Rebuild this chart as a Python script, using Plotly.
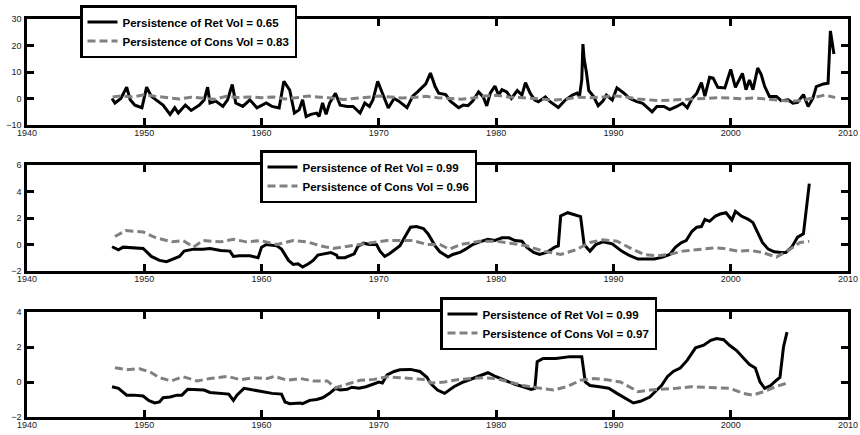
import plotly.graph_objects as go

# ---------- data ----------
# Panel 1: raw volatility series
ret1_t = [1947.25, 1947.5, 1948.0, 1948.5, 1948.8, 1949.2, 1949.8, 1950.2, 1950.6, 1951.0,
          1951.6, 1952.2, 1952.6, 1952.9, 1953.5, 1954.0, 1954.7, 1955.1, 1955.4, 1955.6,
          1956.1, 1956.7, 1957.1, 1957.5, 1957.8, 1958.4, 1959.0, 1959.6, 1960.4, 1960.9,
          1961.5, 1961.9, 1962.4, 1962.8, 1963.2, 1963.5, 1963.8, 1964.2, 1964.7, 1964.9,
          1965.2, 1965.5, 1965.8, 1966.3, 1966.7, 1967.3, 1967.8, 1968.4, 1968.8, 1969.2,
          1969.5, 1969.9, 1970.4, 1970.8, 1971.3, 1971.7, 1972.4, 1972.9, 1973.3, 1973.7,
          1974.0, 1974.4, 1974.8, 1975.1, 1975.7, 1976.1, 1976.5, 1976.8, 1977.2, 1977.6,
          1978.0, 1978.5, 1978.9, 1979.2, 1979.5, 1979.9, 1980.2, 1980.5, 1980.9, 1981.3,
          1981.8, 1982.2, 1982.5, 1982.9, 1983.3, 1983.6, 1984.2, 1984.6, 1985.3, 1985.9,
          1986.5, 1986.9, 1987.1, 1987.3, 1987.4, 1987.5, 1987.7, 1987.9, 1988.3, 1988.7,
          1989.1, 1989.4, 1989.9, 1990.3, 1990.9, 1991.4, 1992.0, 1992.5, 1993.3, 1993.7,
          1994.3, 1994.8, 1995.4, 1995.9, 1996.3, 1996.7, 1997.1, 1997.5, 1997.8, 1998.2,
          1998.5, 1998.9, 1999.5, 2000.0, 2000.4, 2001.0, 2001.3, 2001.6, 2001.9, 2002.3,
          2002.6, 2002.9, 2003.3, 2003.9, 2004.3, 2004.9, 2005.3, 2005.7, 2006.2, 2006.6,
          2007.0, 2007.3, 2007.9, 2008.3, 2008.5, 2008.6, 2008.8]
ret1_v = [0.0, -1.7, 0.0, 4.3, -0.5, -2.5, -3.5, 4.3, 0.8, -0.5,
          -2.5, -6.0, -3.5, -5.5, -2.5, -4.5, -2.5, -0.6, 4.3, -1.7,
          -1.0, -3.0, -0.5, 5.3, -1.7, -3.0, -0.5, -3.5, -1.7, -3.0,
          -3.6, 6.5, 3.2, -5.5, -4.3, -0.5, -6.8, -6.0, -5.5, -6.8,
          -1.7, -6.0, -1.7, 2.0, -2.5, -3.0, -3.0, -5.5, -1.7, -3.0,
          -0.5, 6.5, 1.0, -3.6, 0.0, -1.0, -3.5, 1.0, 2.5, 4.3,
          5.5, 9.6, 4.5, 2.0, 1.5, -1.0, -2.5, -3.5, -2.5, -2.7,
          -1.0, 2.5, 0.6, -2.8, 2.0, 4.7, 1.3, 3.3, 2.5, 0.0,
          3.0, 1.3, 6.0, 2.0, -0.6, -1.2, 0.6, -1.2, -3.4, -0.6,
          1.3, 2.0, 0.7, 7.0, 20.5, 15.0, 9.8, 3.0, 0.8, -2.7,
          -1.0, 1.3, -0.6, 4.0, 2.0, 0.0, -1.2, -1.8, -5.0, -3.0,
          -3.0, -4.2, -3.0, -1.8, -3.5, 0.0, 1.9, 6.0, 0.9, 8.0,
          7.7, 4.2, 4.0, 11.0, 4.2, 9.5, 3.3, 7.0, 3.3, 11.5,
          9.0, 4.5, 0.8, 0.8, -0.8, -0.5, -1.8, -1.5, 1.5, -3.0,
          0.0, 4.5, 5.5, 5.8, 25.5, 23.0, 16.8]
cons1_t = [1947.3, 1948.0, 1949.0, 1950.0, 1951.0, 1952.0, 1953.0, 1954.0, 1955.0, 1956.0,
           1957.0, 1958.0, 1959.0, 1960.0, 1961.0, 1962.0, 1963.0, 1964.0, 1965.0, 1966.0,
           1967.0, 1968.0, 1969.0, 1970.0, 1971.0, 1972.0, 1973.0, 1974.0, 1975.0, 1976.0,
           1977.0, 1978.0, 1979.0, 1980.0, 1981.0, 1982.0, 1983.0, 1984.0, 1985.0, 1986.0,
           1987.0, 1988.0, 1989.0, 1990.0, 1991.0, 1992.0, 1993.0, 1994.0, 1995.0, 1996.0,
           1997.0, 1998.0, 1999.0, 2000.0, 2001.0, 2002.0, 2003.0, 2004.0, 2005.0, 2006.0,
           2007.0, 2008.0, 2008.9]
cons1_v = [0.6, 1.0, 0.6, 1.4, 0.8, 0.2, -0.2, 0.5, 0.2, -0.3,
           0.8, 0.4, 0.6, 0.3, 0.6, -0.2, 0.3, 0.9, 0.5, 0.2,
           -0.4, 0.0, 0.5, 0.9, 0.6, 0.2, 0.4, 0.8, 0.3, 0.1,
           -0.3, 0.2, 0.9, 1.2, 0.6, 0.4, 0.0, -0.3, -0.6, -0.2,
           0.5, 0.3, 0.5, 1.0, 0.7, -0.2, -0.6, -0.8, -0.6, -0.4,
           -0.3, -0.1, 0.3, 0.2, -0.1, 0.2, -0.2, -0.5, -1.0, -0.8,
           0.2, 1.3, 0.4]

# Panel 2: smoothed series
ret2_t = [1947.25, 1947.8, 1948.2, 1949.9, 1950.6, 1951.3, 1951.9, 1952.4, 1953.0, 1953.4,
          1954.2, 1955.0, 1955.6, 1956.5, 1957.3, 1957.6, 1958.1, 1959.0, 1959.7, 1960.0,
          1960.4, 1961.3, 1961.7, 1962.3, 1962.7, 1963.1, 1963.5, 1964.0, 1964.4, 1964.8,
          1965.4, 1965.9, 1966.4, 1966.5, 1967.1, 1967.5, 1967.9, 1968.2, 1968.7, 1969.2,
          1969.8, 1970.1, 1970.5, 1970.9, 1971.4, 1971.8, 1972.2, 1972.7, 1973.2, 1973.8,
          1974.2, 1974.8, 1975.2, 1975.9, 1976.3, 1976.9, 1977.4, 1978.0, 1978.6, 1979.3,
          1979.9, 1980.5, 1981.1, 1981.6, 1982.2, 1982.6, 1983.2, 1983.7, 1984.3, 1985.0,
          1985.3, 1985.5, 1986.1, 1986.5, 1987.2, 1987.5, 1988.0, 1988.5, 1989.1, 1989.9,
          1990.7, 1991.4, 1992.1, 1992.8, 1993.5, 1994.2, 1994.8, 1995.3, 1995.8, 1996.2,
          1996.7, 1997.1, 1997.5, 1997.8, 1998.2, 1998.7, 1999.1, 1999.6, 2000.1, 2000.4,
          2000.9, 2001.5, 2001.9, 2002.3, 2002.7, 2003.2, 2003.7, 2004.3, 2004.7, 2005.2,
          2005.7, 2006.2, 2006.5, 2006.7]
ret2_v = [-0.17, -0.4, -0.2, -0.3, -0.9, -1.2, -1.3, -1.1, -0.9, -0.5,
          -0.35, -0.35, -0.3, -0.45, -0.5, -0.9, -0.85, -0.85, -1.0, -0.2,
          0.0, -0.1, -0.35, -1.2, -1.5, -1.45, -1.7, -1.45, -1.2, -0.8,
          -0.7, -0.6, -0.8, -1.0, -1.0, -0.85, -0.7, -0.15, 0.1, 0.0,
          0.0, -0.5, -0.9, -0.7, -0.35, -0.1, 0.55, 1.3, 1.35, 1.2,
          0.8, -0.1, -0.55, -0.95, -0.75, -0.6, -0.35, 0.0, 0.2, 0.4,
          0.3, 0.5, 0.5, 0.3, 0.25, -0.2, -0.6, -0.75, -0.6, -0.2,
          -0.1, 2.15, 2.4, 2.3, 2.1, 0.0, -0.5, 0.0, 0.2, 0.05,
          -0.5, -0.85, -1.1, -1.1, -1.1, -0.95, -0.75, -0.2, 0.15, 0.3,
          1.0, 1.3, 1.35, 1.9, 1.75, 2.15, 2.3, 2.4, 1.85, 2.5,
          2.15, 1.9, 1.65, 0.9, 0.15, -0.35, -0.55, -0.6, -0.6, -0.2,
          0.55, 0.8, 3.3, 4.6]
cons2_t = [1947.5, 1948.4, 1949.9, 1951.0, 1952.4, 1953.3, 1954.2, 1955.0, 1956.5, 1957.6,
           1958.7, 1959.9, 1961.3, 1962.7, 1963.9, 1965.0, 1966.1, 1967.3, 1968.4, 1969.5,
           1970.7, 1971.8, 1972.9, 1974.1, 1975.2, 1976.0, 1977.0, 1978.6, 1980.0, 1981.2,
           1982.6, 1984.0, 1985.5, 1986.8, 1988.0, 1989.1, 1990.3, 1991.4, 1992.6, 1993.8,
           1994.8, 1995.9, 1997.1, 1998.6, 1999.4, 2000.6, 2001.7, 2002.7, 2003.9, 2005.0,
           2005.9, 2006.7]
cons2_v = [0.6, 1.05, 0.95, 0.5, 0.2, 0.3, -0.2, 0.3, 0.2, 0.4,
           0.2, 0.3, 0.0, 0.3, 0.2, -0.1, -0.3, -0.15, 0.0, 0.1,
           0.3, 0.3, 0.3, 0.0, 0.0, -0.35, 0.0, 0.25, 0.25, 0.1,
           -0.1, -0.5, -0.75, -0.4, 0.15, 0.35, 0.25, -0.25, -0.75, -0.85,
           -0.75, -0.5, -0.4, -0.25, -0.3, -0.5, -0.45, -0.6, -0.95, -0.4,
           0.15, 0.25]

# Panel 3: smoothed series, shorter sample
ret3_t = [1947.25, 1947.8, 1948.5, 1949.1, 1949.9, 1950.4, 1950.9, 1951.3, 1951.6, 1952.2,
          1952.8, 1953.2, 1953.7, 1954.2, 1955.1, 1955.6, 1956.5, 1957.2, 1957.6, 1957.9,
          1958.5, 1959.3, 1960.2, 1960.9, 1961.7, 1962.0, 1962.4, 1963.3, 1963.5, 1964.1,
          1964.7, 1965.2, 1965.8, 1966.3, 1966.7, 1967.3, 1967.7, 1968.3, 1968.9, 1969.6,
          1970.0, 1970.3, 1970.7, 1971.3, 1971.8, 1972.7, 1973.5, 1974.1, 1974.4, 1975.0,
          1975.6, 1976.4, 1977.2, 1978.0, 1978.7, 1979.3, 1980.0, 1980.7, 1981.6, 1982.3,
          1983.0, 1983.3, 1983.5, 1984.0, 1985.1, 1986.3, 1987.3, 1987.6, 1988.0, 1988.8,
          1989.6, 1990.3, 1991.0, 1991.7, 1992.3, 1993.1, 1993.7, 1994.1, 1994.6, 1995.1,
          1995.7, 1996.3, 1997.0, 1997.7, 1998.3, 1998.8, 1999.4, 1999.9, 2000.5, 2001.1,
          2001.6, 2002.1, 2002.5, 2002.9, 2003.4, 2003.9, 2004.2, 2004.5, 2004.8]
ret3_v = [-0.27, -0.36, -0.75, -0.75, -0.8, -1.07, -1.2, -1.14, -0.9, -0.86,
          -0.75, -0.75, -0.42, -0.42, -0.46, -0.6, -0.65, -0.69, -1.05, -0.75,
          -0.36, -0.46, -0.55, -0.65, -0.69, -1.14, -1.24, -1.2, -1.24, -1.05,
          -1.0, -0.9, -0.65, -0.36, -0.46, -0.42, -0.3, -0.36, -0.27, -0.08,
          0.0, -0.06, 0.4, 0.6, 0.7, 0.72, 0.6, 0.27, -0.08, -0.46,
          -0.65, -0.27, 0.0, 0.2, 0.4, 0.53, 0.3, 0.1, -0.13, -0.27,
          -0.42, -0.36, 1.16, 1.35, 1.35, 1.45, 1.45, 0.0, -0.2, -0.27,
          -0.36, -0.65, -0.95, -1.2, -1.1, -0.86, -0.46, -0.2, 0.3, 0.6,
          0.8, 1.25, 1.95, 2.1, 2.38, 2.48, 2.42, 2.1, 1.8, 1.35,
          1.0, 0.8, 0.0, -0.36, -0.2, 0.1, 0.27, 2.0, 2.85]
cons3_t = [1947.5, 1948.5, 1949.6, 1950.5, 1951.3, 1952.3, 1953.3, 1954.5, 1955.6, 1957.1,
           1958.2, 1959.3, 1960.5, 1961.1, 1962.2, 1963.3, 1964.4, 1965.6, 1966.3, 1967.3,
           1968.4, 1969.6, 1970.7, 1971.8, 1973.0, 1974.1, 1974.4, 1975.6, 1976.7, 1977.8,
           1978.9, 1980.0, 1981.2, 1982.3, 1983.5, 1984.9, 1986.1, 1987.2, 1988.3, 1989.4,
           1990.6, 1991.4, 1992.1, 1993.1, 1994.3, 1995.4, 1996.6, 1997.7, 1998.8, 1999.9,
           2001.1, 2001.9, 2002.8, 2003.9, 2004.8]
cons3_v = [0.82, 0.7, 0.76, 0.57, 0.25, 0.06, 0.3, 0.06, 0.2, 0.32,
           0.13, 0.25, 0.2, 0.32, 0.1, 0.2, 0.06, 0.06, -0.33, -0.13,
           0.1, 0.15, 0.3, 0.25, 0.2, 0.13, -0.06, 0.0, 0.13, 0.2,
           0.25, 0.2, 0.0, -0.2, -0.33, -0.46, -0.25, 0.1, 0.2, 0.13,
           0.0, -0.27, -0.55, -0.46, -0.42, -0.36, -0.27, -0.3, -0.3, -0.36,
           -0.65, -0.75, -0.55, -0.25, -0.06]

ret_labels = ["Persistence of Ret Vol = 0.65", "Persistence of Ret Vol = 0.99",
              "Persistence of Ret Vol = 0.99"]
cons_labels = ["Persistence of Cons Vol = 0.83", "Persistence of Cons Vol = 0.96",
               "Persistence of Cons Vol = 0.97"]
x_ticks = [1940, 1950, 1960, 1970, 1980, 1990, 2000, 2010]
y_ticks = [[-10, 0, 10, 20, 30], [-2, 0, 2, 4, 6], [-2, 0, 2, 4]]
y_ranges = [[-10, 30], [-2, 6], [-2, 4]]

# ---------- figure ----------
W, H = 860, 435
x_dom = [27 / W, 848 / W]
# panel pixel extents (top, bottom)
panel_px = [(19, 125), (165, 271), (312, 417)]
legend_pos = [(80, 5), (260, 150), (440, 297)]

series = [(ret1_t, ret1_v, cons1_t, cons1_v),
          (ret2_t, ret2_v, cons2_t, cons2_v),
          (ret3_t, ret3_v, cons3_t, cons3_v)]

GRAY = "#808080"
fig = go.Figure()
layout = dict(
    width=W, height=H,
    margin=dict(l=0, r=0, t=0, b=0, autoexpand=False),
    paper_bgcolor="white", plot_bgcolor="white",
    font=dict(family="Liberation Sans, Arial, sans-serif", color="black"),
)

for i, (rt, rv, ct, cv) in enumerate(series):
    k = "" if i == 0 else str(i + 1)
    leg = "legend" + k
    fig.add_trace(go.Scatter(
        x=rt, y=rv, mode="lines", name=ret_labels[i], legend=leg,
        xaxis="x" + k, yaxis="y" + k,
        line=dict(color="black", width=3),
    ))
    fig.add_trace(go.Scatter(
        x=ct, y=cv, mode="lines", name=cons_labels[i], legend=leg,
        xaxis="x" + k, yaxis="y" + k,
        line=dict(color=GRAY, width=3, dash="8px,4px"),
    ))

    top, bot = panel_px[i]
    axis_common = dict(
        showline=True, linecolor="black", linewidth=2.5, mirror="allticks",
        ticks="inside", ticklen=7, tickwidth=2.5, tickcolor="black",
        showgrid=False, zeroline=False,
        tickfont=dict(size=9, color="#222222"),
    )
    layout["xaxis" + k] = dict(
        axis_common, domain=x_dom, range=[1940, 2010],
        tickvals=x_ticks, anchor="y" + k, ticklabelstandoff=-3,
    )
    layout["yaxis" + k] = dict(
        axis_common, domain=[1 - bot / H, 1 - top / H], range=y_ranges[i],
        tickvals=y_ticks[i], anchor="x" + k, ticklabelstandoff=1,
    )
    lx, ly = legend_pos[i]
    layout[leg] = dict(
        x=lx / W, y=1 - ly / H, xanchor="left", yanchor="top",
        bgcolor="white", bordercolor="black", borderwidth=2.5,
        font=dict(size=11.5, family="Liberation Sans, Arial, sans-serif", color="black",
                  weight="bold"),
        itemwidth=30, tracegroupgap=0,
    )

layout["showlegend"] = True
fig.update_layout(**layout)
fig.write_html("out.html")
